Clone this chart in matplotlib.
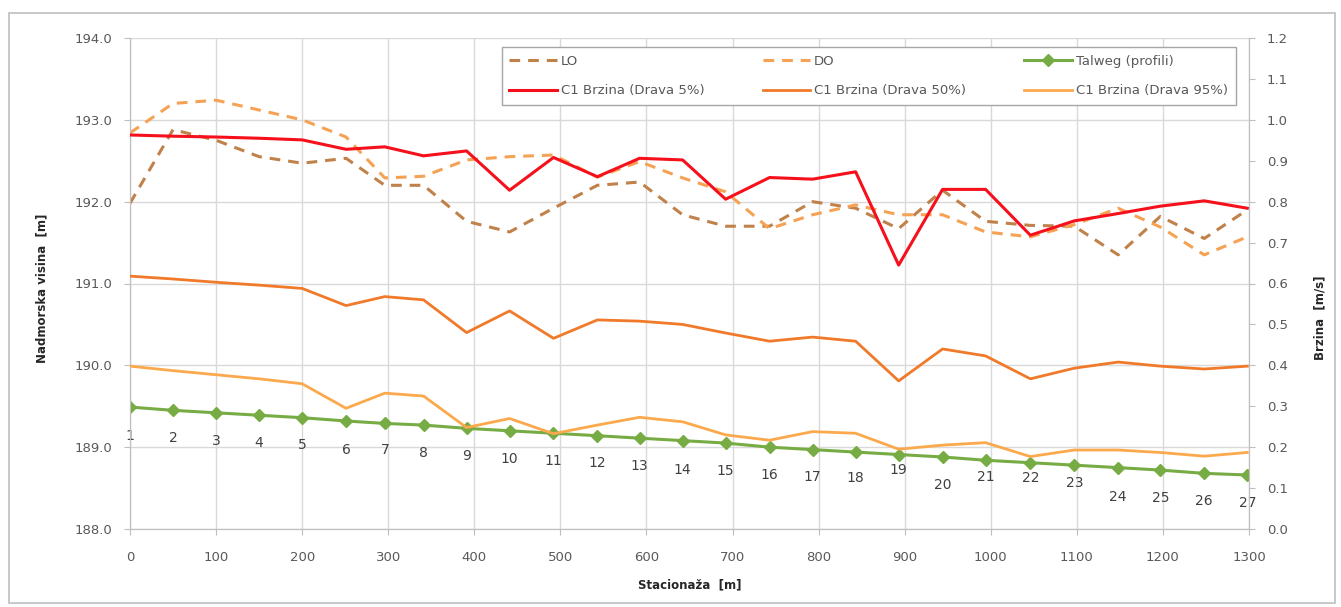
import matplotlib
matplotlib.use("Agg")
import matplotlib.pyplot as plt
from matplotlib.patches import Rectangle

# =============================
# Podaci (ocitano sa slike)
# =============================
stanice = [0, 50, 100, 150, 200, 251, 296, 341, 391, 441, 492, 543, 592, 642,
           692, 743, 793, 843, 893, 944, 994, 1046, 1097, 1148, 1197, 1248, 1298]
profili = list(range(1, 28))

talweg = [189.49, 189.45, 189.42, 189.39, 189.36, 189.32, 189.29, 189.27, 189.23,
          189.20, 189.17, 189.14, 189.11, 189.08, 189.05, 189.00, 188.97, 188.94,
          188.91, 188.88, 188.84, 188.81, 188.78, 188.75, 188.72, 188.68, 188.66]

lo = [191.98, 192.88, 192.75, 192.55, 192.47, 192.53, 192.20, 192.20, 191.76,
      191.63, 191.92, 192.20, 192.24, 191.84, 191.70, 191.70, 192.00, 191.92,
      191.67, 192.14, 191.76, 191.71, 191.70, 191.35, 191.82, 191.55, 191.90]

do = [192.84, 193.20, 193.24, 193.12, 193.00, 192.79, 192.29, 192.31, 192.51,
      192.55, 192.57, 192.30, 192.49, 192.29, 192.12, 191.67, 191.84, 191.96,
      191.84, 191.84, 191.63, 191.57, 191.72, 191.92, 191.69, 191.35, 191.57]

brzina_5 = [0.963, 0.960, 0.958, 0.955, 0.951, 0.928, 0.934, 0.912, 0.924, 0.828,
            0.908, 0.861, 0.906, 0.902, 0.806, 0.859, 0.855, 0.873, 0.645, 0.830,
            0.830, 0.718, 0.753, 0.771, 0.789, 0.802, 0.784]

brzina_50 = [0.618, 0.611, 0.603, 0.596, 0.588, 0.546, 0.568, 0.560, 0.480, 0.533,
             0.466, 0.511, 0.508, 0.500, 0.479, 0.459, 0.469, 0.459, 0.362, 0.440,
             0.423, 0.367, 0.393, 0.408, 0.398, 0.391, 0.398]

brzina_95 = [0.398, 0.387, 0.377, 0.367, 0.355, 0.295, 0.332, 0.325, 0.248, 0.270,
             0.233, 0.254, 0.273, 0.262, 0.230, 0.217, 0.238, 0.234, 0.195, 0.205,
             0.211, 0.177, 0.193, 0.193, 0.187, 0.178, 0.187]

# pomak oznaka profila ispod talwega (pt)
pomak = [21, 20, 20, 20, 20, 21, 19, 20, 20, 20, 20, 20, 20, 21,
         20, 20, 20, 19, 11, 20, 12, 11, 13, 21, 20, 20, 20]

# =============================
# Crtanje
# =============================
plt.rcParams["font.family"] = ["DejaVu Sans"]
W, H = 1341, 607
fig = plt.figure(figsize=(W / 100, H / 100), dpi=100)
fig.patches.append(Rectangle((9 / W, 1 - 603 / H), (1335 - 9) / W, (603 - 13) / H,
                             transform=fig.transFigure, fill=False,
                             edgecolor="#BFBFBF", linewidth=1.2))

ax = fig.add_axes([130 / W, 1 - 529 / H, (1249 - 130) / W, (529 - 38) / H])
ax2 = ax.twinx()

siva = "#595959"
mreza = "#D9D9D9"

l_lo, = ax.plot(stanice, lo, color="#C0814A", lw=2.2, dashes=(3.5, 2.6), zorder=3)
l_do, = ax.plot(stanice, do, color="#F5A255", lw=2.2, dashes=(3.5, 2.6), zorder=3)
l_tw, = ax.plot(stanice, talweg, color="#77AC44", lw=2.2, marker="D",
                markersize=6, zorder=4)

l_5, = ax2.plot(stanice, brzina_5, color="#F5101C", lw=2.2, zorder=5)
l_50, = ax2.plot(stanice, brzina_50, color="#F07A2A", lw=2.0, zorder=5)
l_95, = ax2.plot(stanice, brzina_95, color="#FBA94C", lw=2.0, zorder=5)

for s, t, p, d in zip(stanice, talweg, profili, pomak):
    ax.annotate(str(p), (s, t), xytext=(0, -d), textcoords="offset points",
                ha="center", va="center", fontsize=10, color="#404040", zorder=6)

ax.set_xlim(0, 1300)
ax.set_ylim(188, 194)
ax2.set_ylim(0, 1.2)
ax.set_xticks(range(0, 1301, 100))
ax.set_yticks([188 + i for i in range(7)])
ax2.set_yticks([i / 10 for i in range(13)])
ax.set_yticklabels([f"{188 + i:.1f}" for i in range(7)])
ax2.set_yticklabels([f"{i / 10:.1f}" for i in range(13)])

ax.grid(True, color=mreza, lw=1.0)
ax.set_axisbelow(True)
ax2.set_zorder(ax.get_zorder() + 1)
ax2.patch.set_visible(False)

for a in (ax, ax2):
    a.spines["top"].set_visible(False)
    for sp in ("left", "right", "bottom"):
        a.spines[sp].set_color("#BFBFBF")
    a.tick_params(colors="#BFBFBF", labelcolor=siva, labelsize=9.5, length=4)
ax.tick_params(axis="x", pad=12)
ax.tick_params(axis="y", pad=9)
ax2.tick_params(axis="y", pad=9)

ax.set_xlabel("Stacionaža  [m]", fontsize=8.5, fontweight="bold", color="#262626")
ax.xaxis.set_label_coords(0.5, -0.1)
ax.set_ylabel("Nadmorska visina  [m]", fontsize=8.5, fontweight="bold", color="#262626")
ax.yaxis.set_label_coords(-0.073, 0.49)
ax2.set_ylabel("Brzina  [m/s]", fontsize=8.5, fontweight="bold", color="#262626",
               rotation=90)
ax2.yaxis.set_label_coords(1.058, 0.43)

leg = ax2.legend([l_lo, l_5, l_do, l_50, l_tw, l_95],
                 ["LO", "C1 Brzina (Drava 5%)", "DO", "C1 Brzina (Drava 50%)",
                  "Talweg (profili)", "C1 Brzina (Drava 95%)"],
                 ncol=3, loc="upper left", mode="expand",
                 bbox_to_anchor=(0.332, 0.0, 0.656, 0.982), borderaxespad=0,
                 fontsize=9.5, handlelength=3.6, numpoints=1, fancybox=False,
                 framealpha=1, edgecolor="#A6A6A6", borderpad=0.6,
                 labelspacing=1.25, handletextpad=0.3)
for t in leg.get_texts():
    t.set_color(siva)

fig.savefig("out.png", dpi=100)
